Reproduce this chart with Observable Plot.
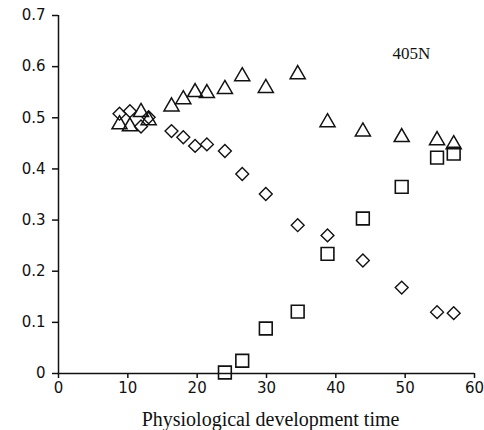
<!DOCTYPE html>
<html>
<head>
<meta charset="utf-8">
<script src="https://cdn.jsdelivr.net/npm/d3@7"></script>
<script src="https://cdn.jsdelivr.net/npm/@observablehq/plot@0.6"></script>
<style>
  html, body { margin: 0; padding: 0; background: #fff; }
  #chart svg { display: block; }
</style>
</head>
<body>
<div id="chart"></div>
<script>
// Physiological development time (shared by all series)
const time = [8.8, 10.3, 11.9, 13.0, 16.3, 18.0, 19.7, 21.4, 24.0, 26.5, 29.9, 34.5, 38.8, 43.9, 49.5, 54.6, 57.0];
// Triangle series
const triangleValues = [0.487, 0.483, 0.511, 0.495, 0.522, 0.536, 0.550, 0.548, 0.556, 0.581, 0.558, 0.585, 0.491, 0.473, 0.462, 0.456, 0.448];
// Diamond series
const diamondValues = [0.508, 0.513, 0.483, 0.501, 0.474, 0.462, 0.445, 0.448, 0.435, 0.390, 0.351, 0.290, 0.270, 0.221, 0.168, 0.120, 0.118];
// Square series (starts at time index 8)
const squareTime = time.slice(8);
const squareValues = [0.002, 0.025, 0.088, 0.121, 0.234, 0.303, 0.365, 0.422, 0.430];

const xTicks = [0, 10, 20, 30, 40, 50, 60];
const yTicks = [0, 0.1, 0.2, 0.3, 0.4, 0.5, 0.6, 0.7];
const xLabel = "Physiological development time";
const panelLabel = "405N";

const tri = time.map((t, i) => ({t, v: triangleValues[i]}));
const dia = time.map((t, i) => ({t, v: diamondValues[i]}));
const sq = squareTime.map((t, i) => ({t, v: squareValues[i]}));

const tickFont = "DejaVu Sans, Verdana, sans-serif";
const serif = "Liberation Serif, Times New Roman, serif";

const chart = Plot.plot({
  width: 484,
  height: 430,
  marginLeft: 58,
  marginRight: 10,
  marginTop: 15,
  marginBottom: 57,
  style: {background: "#fff", color: "#111"},
  x: {domain: [0, 60]},
  y: {domain: [0, 0.7]},
  marks: [
    Plot.axisY({
      ticks: yTicks, tickSize: 6, tickPadding: 7, tickFormat: d => d === 0 ? "0" : d.toFixed(1),
      fontSize: 15, fontFamily: tickFont, label: null, strokeWidth: 1.5
    }),
    Plot.axisX({
      ticks: xTicks, tickSize: 5, tickPadding: 4, tickFormat: d => String(d),
      fontSize: 15, fontFamily: tickFont, label: null, strokeWidth: 1.5
    }),
    Plot.ruleX([0], {stroke: "#111", strokeWidth: 1.5}),
    Plot.ruleY([0], {stroke: "#111", strokeWidth: 1.5}),
    Plot.dot(tri, {x: "t", y: "v", symbol: "triangle", r: 5.6, stroke: "#111", strokeWidth: 1.5, fill: "none"}),
    Plot.dot(dia, {x: "t", y: "v", symbol: "diamond2", r: 5.8, stroke: "#111", strokeWidth: 1.4, fill: "none"}),
    Plot.dot(sq, {x: "t", y: "v", symbol: "square", r: 7.2, stroke: "#111", strokeWidth: 1.6, fill: "none"}),
    Plot.text([xLabel], {
      frameAnchor: "bottom", dx: 4, dy: 52, textAnchor: "middle", lineAnchor: "bottom",
      fontSize: 20, fontFamily: serif, fill: "#111"
    }),
    Plot.text([panelLabel], {
      frameAnchor: "top-left", dx: 334, dy: 43, textAnchor: "start", lineAnchor: "bottom",
      fontSize: 17, fontFamily: serif, fill: "#111"
    })
  ]
});
document.getElementById("chart").appendChild(chart);
</script>
</body>
</html>
